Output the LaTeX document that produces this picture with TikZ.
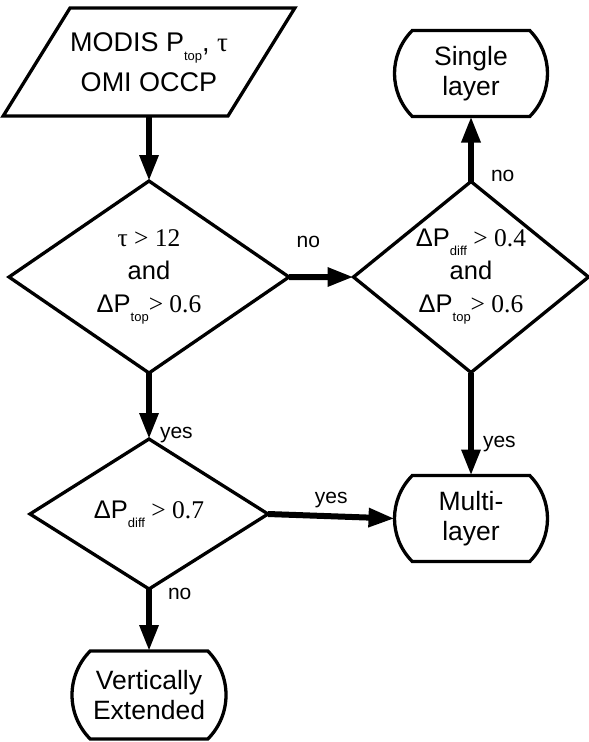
\documentclass[tikz,border=0pt]{standalone}
\usepackage{fontspec}
\setmainfont{Liberation Sans}
\newfontfamily\sernum{Liberation Serif}
\usetikzlibrary{positioning,shapes.geometric,shapes.misc,arrows.meta}
\newcommand{\lowsub}[1]{\raisebox{-9pt}{\fontsize{13}{13}\selectfont #1}}

\begin{document}
\begin{tikzpicture}[x=1pt,y=-1pt,
		every node/.style={outer sep=0pt,inner sep=0pt,align=center},
		io/.style={draw,line width=3.3pt,trapezium,trapezium left angle=56,trapezium right angle=124,
			trapezium stretches body,inner ysep=20pt,minimum width=282pt,minimum height=108pt,
			font=\fontsize{27}{40}\selectfont},
		dfont/.style={font=\fontsize{25.5}{33}\selectfont},
		decision/.style={draw,line width=3.3pt,diamond,dfont},
		term/.style={draw,line width=3.3pt,rounded rectangle,rounded rectangle arc length=90,
			minimum width=153pt,minimum height=86pt,font=\fontsize{26.5}{30}\selectfont},
		arr/.style={line width=6pt,-{Triangle[length=26pt,width=18pt]}},
		lbl/.style={font=\fontsize{21}{21}\selectfont}]
		\useasboundingbox (0,0) rectangle (589,742);
		\node[io] (IN) at (149,62) {MODIS P\lowsub{top}, {\sernum τ}\\OMI OCCP};
		\node[decision,minimum width=280pt,minimum height=192pt,
			label={[dfont]center:{\sernum τ > 12}\\and\\ΔP\lowsub{top}{\sernum > 0.6}}]
			(T1) [below=65pt of IN] {};
		\node[decision,minimum width=235pt,minimum height=191pt,
			label={[dfont]center:ΔP\lowsub{diff}{\sernum\ > 0.4}\\and\\ΔP\lowsub{top}{\sernum > 0.6}}]
			(T2) at (471,277) {};
		\node[decision,minimum width=238pt,minimum height=150pt] (T3) [below=66pt of T1]
			{ΔP\lowsub{diff}{\sernum\ > 0.7}};
		\node[term] (SINGLE) [above=65pt of T2] {Single\\layer};
		\node[term] (MULTI)  [below=103pt of T2] {Multi-\\layer};
		\node[term,minimum width=154pt,minimum height=88pt] (VERT) [below=62pt of T3] {Vertically\\Extended};
		
		\draw[arr] (IN.south) -- (T1.north);
		\draw[arr] (T1.east) -- node[lbl,pos=0.3,above=29pt] (NO1) {no} (T2.west);
		\draw[arr] (T2.north) -- node[lbl,pos=0.08,right=20pt] (NO2) {no} (SINGLE.south);
		\draw[arr] (T1.south) -- node[lbl,pos=0.94,right=11pt] (YES1) {yes} (T3.north);
		\draw[arr] (T2.south) -- node[lbl,pos=0.69,right=12pt] (YES2) {yes} (MULTI.north);
		\draw[arr] (T3.east) -- node[lbl,midway,above=8pt] (YES3) {yes} (MULTI.west);
		\draw[arr] (T3.south) -- node[lbl,pos=0.08,right=19pt] (NO3) {no} (VERT.north);
	\end{tikzpicture}
\end{document}
